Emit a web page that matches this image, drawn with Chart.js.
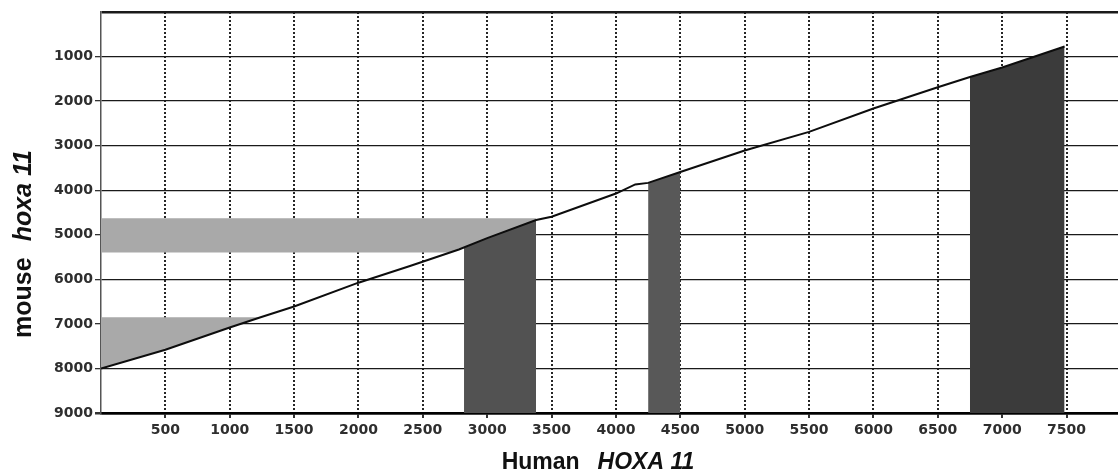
<!DOCTYPE html>
<html>
<head>
<meta charset="utf-8">
<script src="https://cdn.jsdelivr.net/npm/chart.js@4.4.1/dist/chart.umd.min.js"></script>
<style>
  body { margin: 0; background: #fff; }
  canvas { display: block; }
</style>
</head>
<body>
<canvas id="dotPlot" width="1118" height="471"></canvas>
<script>
// alignment line: human HOXA 11 position vs mouse hoxa 11 position
const humanPos = [0, 500, 1000, 1240, 1500, 2000, 2400, 2780, 3000, 3380, 3500, 4000, 4150, 4250, 4500, 5000, 5500, 6000, 6500, 6750, 7000, 7485];
const mousePos = [8000, 7580, 7080, 6850, 6610, 6075, 5700, 5330, 5075, 4670, 4595, 4075, 3870, 3835, 3590, 3110, 2690, 2165, 1690, 1460, 1245, 775];

// light bands on the mouse axis (from the y axis over to the line)
const upperBandX = [0, 2700, 2780, 3000, 3380];
const upperBandY = [5395, 5395, 5330, 5075, 4670];
const upperBandTop = 4630;
const lowerBandX = [0, 500, 1000, 1240];
const lowerBandY = [8000, 7580, 7080, 6850];
const lowerBandTop = 6850;

// dark bands on the human axis (from the line down to the x axis)
const darkBand1X = [2820, 3000, 3380];
const darkBand1Y = [5295, 5075, 4660];
const darkBand2X = [4250, 4500];
const darkBand2Y = [3835, 3590];
const darkBand3X = [6750, 7000, 7485];
const darkBand3Y = [1460, 1245, 775];

const xTicks = [0, 500, 1000, 1500, 2000, 2500, 3000, 3500, 4000, 4500, 5000, 5500, 6000, 6500, 7000, 7500];
const yTicks = [0, 1000, 2000, 3000, 4000, 5000, 6000, 7000, 8000, 9000];
const xMax = 7900;
const yMax = 9000;

const toPoints = (xs, ys) => xs.map((x, i) => ({ x: x, y: ys[i] }));

function band(xs, ys, target, color) {
  return {
    data: toPoints(xs, ys),
    borderWidth: 0,
    pointRadius: 0,
    backgroundColor: color,
    fill: { value: target },
  };
}

const axisTitles = {
  id: "axisTitles",
  afterDraw(chart) {
    const ctx = chart.ctx;
    ctx.save();
    ctx.fillStyle = "#111";
    ctx.textBaseline = "alphabetic";

    // x title: Human HOXA 11
    const fx1 = "bold 23px 'Liberation Sans', Arial, sans-serif";
    const fx2 = "italic bold 23px 'Liberation Sans', Arial, sans-serif";
    ctx.font = fx1;
    const w1 = ctx.measureText("Human").width;
    const gap = 18;
    ctx.font = fx2;
    const w2 = ctx.measureText("HOXA 11").width;
    let sx = 598 - (w1 + gap + w2) / 2;
    ctx.textAlign = "left";
    ctx.font = fx1;
    ctx.fillText("Human", sx, 469);
    ctx.font = fx2;
    ctx.fillText("HOXA 11", sx + w1 + gap, 469);

    // y title: mouse hoxa 11
    const fy1 = "bold 25px 'Liberation Sans', Arial, sans-serif";
    const fy2 = "italic bold 25px 'Liberation Sans', Arial, sans-serif";
    ctx.font = fy1;
    const v1 = ctx.measureText("mouse").width;
    const vgap = 16;
    ctx.font = fy2;
    const v2 = ctx.measureText("hoxa 11").width;
    ctx.translate(31, 244);
    ctx.rotate(-Math.PI / 2);
    const sy = -(v1 + vgap + v2) / 2;
    ctx.font = fy1;
    ctx.fillText("mouse", sy, 0);
    ctx.font = fy2;
    ctx.fillText("hoxa 11", sy + v1 + vgap, 0);
    ctx.restore();
  },
};

const hideZero = (c, col) => (c.tick && c.tick.value === 0 ? "rgba(0,0,0,0)" : col);

const canvas = document.querySelector("#dotPlot");
const dotPlot = new Chart(canvas, {
  type: "line",
  data: {
    datasets: [
      {
        label: "alignment",
        data: toPoints(humanPos, mousePos),
        borderColor: "#0d0d0d",
        borderWidth: 2,
        pointRadius: 0,
        tension: 0,
        fill: false,
      },
      band(darkBand1X, darkBand1Y, yMax, "#525252"),
      band(darkBand2X, darkBand2Y, yMax, "#585858"),
      band(darkBand3X, darkBand3Y, yMax, "#3b3b3b"),
      band(upperBandX, upperBandY, upperBandTop, "#a9a9a9"),
      band(lowerBandX, lowerBandY, lowerBandTop, "#a9a9a9"),
    ],
  },
  options: {
    responsive: false,
    animation: false,
    layout: { padding: { top: 12, right: 0, left: 0, bottom: 0 } },
    scales: {
      x: {
        type: "linear",
        min: 0,
        max: xMax,
        z: 1,
        afterBuildTicks: (scale) => {
          scale.ticks = xTicks.map((v) => ({ value: v }));
        },
        afterFit: (scale) => {
          scale.height = 58;
        },
        ticks: {
          autoSkip: false,
          maxRotation: 0,
          padding: 4,
          color: "#2e2e2e",
          font: { family: "'DejaVu Sans', sans-serif", size: 14, weight: "bold" },
          callback: (v) => (v === 0 ? "" : String(v)),
        },
        grid: {
          color: (c) => hideZero(c, "#262626"),
          lineWidth: 2,
          tickLength: 5,
          tickColor: (c) => hideZero(c, "#333"),
          tickBorderDash: [],
        },
        border: { display: true, color: "#000", width: 2.5, dash: [2, 2] },
      },
      y: {
        type: "linear",
        min: 0,
        max: yMax,
        reverse: true,
        z: 1,
        afterBuildTicks: (scale) => {
          scale.ticks = yTicks.map((v) => ({ value: v }));
        },
        afterFit: (scale) => {
          scale.width = 101;
        },
        ticks: {
          autoSkip: false,
          padding: 2,
          color: "#2e2e2e",
          font: { family: "'DejaVu Sans', sans-serif", size: 14, weight: "bold" },
          callback: (v) => (v === 0 ? "" : String(v)),
        },
        grid: {
          color: "#1a1a1a",
          lineWidth: (c) => (c.tick && (c.tick.value === 0 || c.tick.value === yMax) ? 2.5 : 1.3),
          tickLength: 6,
          tickColor: (c) => hideZero(c, "#333"),
        },
        border: { display: true, color: "#555", width: 1.5 },
      },
    },
    plugins: {
      legend: { display: false },
      tooltip: { enabled: false },
    },
  },
  plugins: [axisTitles],
});
</script>
</body>
</html>
